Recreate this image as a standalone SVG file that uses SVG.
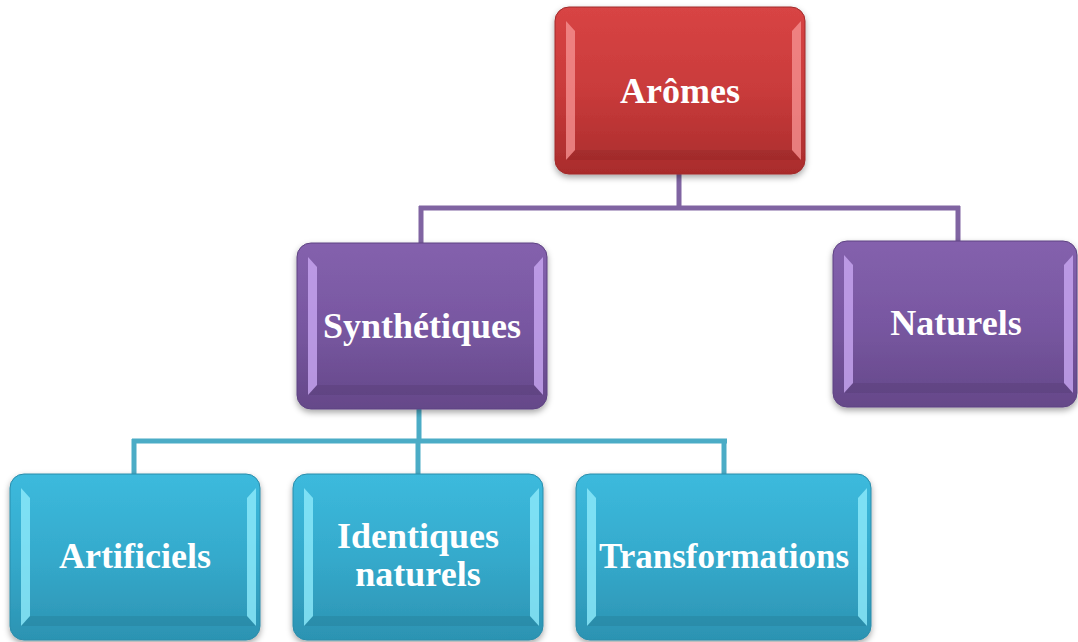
<svg xmlns="http://www.w3.org/2000/svg" width="1078" height="642" viewBox="0 0 1078 642">
<defs>
<linearGradient id="gRed" x1="0" y1="0" x2="0" y2="1"><stop offset="0" stop-color="#D84444"/><stop offset="0.5" stop-color="#C93B3B"/><stop offset="1" stop-color="#A92C2C"/></linearGradient>
<linearGradient id="gPur" x1="0" y1="0" x2="0" y2="1"><stop offset="0" stop-color="#8461AD"/><stop offset="0.5" stop-color="#7857A1"/><stop offset="1" stop-color="#654889"/></linearGradient>
<linearGradient id="gCya" x1="0" y1="0" x2="0" y2="1"><stop offset="0" stop-color="#3CBADD"/><stop offset="0.5" stop-color="#35AACC"/><stop offset="1" stop-color="#2C93B2"/></linearGradient>
<filter id="sh" x="-10%" y="-10%" width="120%" height="125%"><feDropShadow dx="0" dy="3" stdDeviation="3" flood-color="#000" flood-opacity="0.35"/></filter>
</defs>
<style>
.conP{fill:none;stroke:#8064A2;stroke-width:5}
.conC{fill:none;stroke:#4BACC6;stroke-width:5}
.body{filter:url(#sh)}
.red .body{fill:url(#gRed);stroke:#A02A2A;stroke-width:1}
.pur .body{fill:url(#gPur);stroke:#5E4382;stroke-width:1}
.cya .body{fill:url(#gCya);stroke:#2A8CAA;stroke-width:1}
.red .hl{fill:#F59090}
.pur .hl{fill:#C9A8F2}
.cya .hl{fill:#8EEBFB}
.hl{opacity:0.8}
.dk{fill:#000;opacity:0.07}
.lbl{font-family:"Liberation Serif","Times New Roman",serif;font-weight:bold;font-size:36px;fill:#fff;text-anchor:middle}
</style>
<g id="connectors">
<path class="conP" d="M679,172 V208 M419,208 H960 M421,206 V244 M958,206 V242"/>
<path class="conC" d="M419,407 V441 M132,441 H727 M134,439 V475 M418,439 V475 M724,439 V475"/>
</g>
<g id="n-aromes" class="node red" transform="translate(555,7)">
<rect class="body" x="0" y="0" width="250" height="167" rx="14"/>
<path class="dk" d="M11,153 L20,143 L237,143 L246,153 Z"/>
<path class="hl" d="M11,14 L20,24 L20,143 L11,153 Z"/>
<path class="hl" d="M246,14 L237,24 L237,143 L246,153 Z"/>
<text class="lbl" x="125" y="96">Arômes</text>
</g>
<g id="n-synth" class="node pur" transform="translate(297,243)">
<rect class="body" x="0" y="0" width="250" height="166" rx="14"/>
<path class="dk" d="M11,152 L20,142 L237,142 L246,152 Z"/>
<path class="hl" d="M11,14 L20,24 L20,142 L11,152 Z"/>
<path class="hl" d="M246,14 L237,24 L237,142 L246,152 Z"/>
<text class="lbl" x="125" y="95">Synthétiques</text>
</g>
<g id="n-naturels" class="node pur" transform="translate(833,241)">
<rect class="body" x="0" y="0" width="244" height="166" rx="14"/>
<path class="dk" d="M11,152 L20,142 L231,142 L240,152 Z"/>
<path class="hl" d="M11,14 L20,24 L20,142 L11,152 Z"/>
<path class="hl" d="M240,14 L231,24 L231,142 L240,152 Z"/>
<text class="lbl" x="123" y="94">Naturels</text>
</g>
<g id="n-artificiels" class="node cya" transform="translate(10,474)">
<rect class="body" x="0" y="0" width="250" height="166" rx="14"/>
<path class="dk" d="M11,152 L20,142 L237,142 L246,152 Z"/>
<path class="hl" d="M11,14 L20,24 L20,142 L11,152 Z"/>
<path class="hl" d="M246,14 L237,24 L237,142 L246,152 Z"/>
<text class="lbl" x="125" y="94">Artificiels</text>
</g>
<g id="n-identiques" class="node cya" transform="translate(293,474)">
<rect class="body" x="0" y="0" width="250" height="166" rx="14"/>
<path class="dk" d="M11,152 L20,142 L237,142 L246,152 Z"/>
<path class="hl" d="M11,14 L20,24 L20,142 L11,152 Z"/>
<path class="hl" d="M246,14 L237,24 L237,142 L246,152 Z"/>
<text class="lbl" x="125" y="74">Identiques</text>
<text class="lbl" x="125" y="112">naturels</text>
</g>
<g id="n-transformations" class="node cya" transform="translate(576,474)">
<rect class="body" x="0" y="0" width="295" height="166" rx="14"/>
<path class="dk" d="M11,152 L20,142 L282,142 L291,152 Z"/>
<path class="hl" d="M11,14 L20,24 L20,142 L11,152 Z"/>
<path class="hl" d="M291,14 L282,24 L282,142 L291,152 Z"/>
<text class="lbl" x="148" y="94" style="font-size:35px">Transformations</text>
</g>
</svg>
